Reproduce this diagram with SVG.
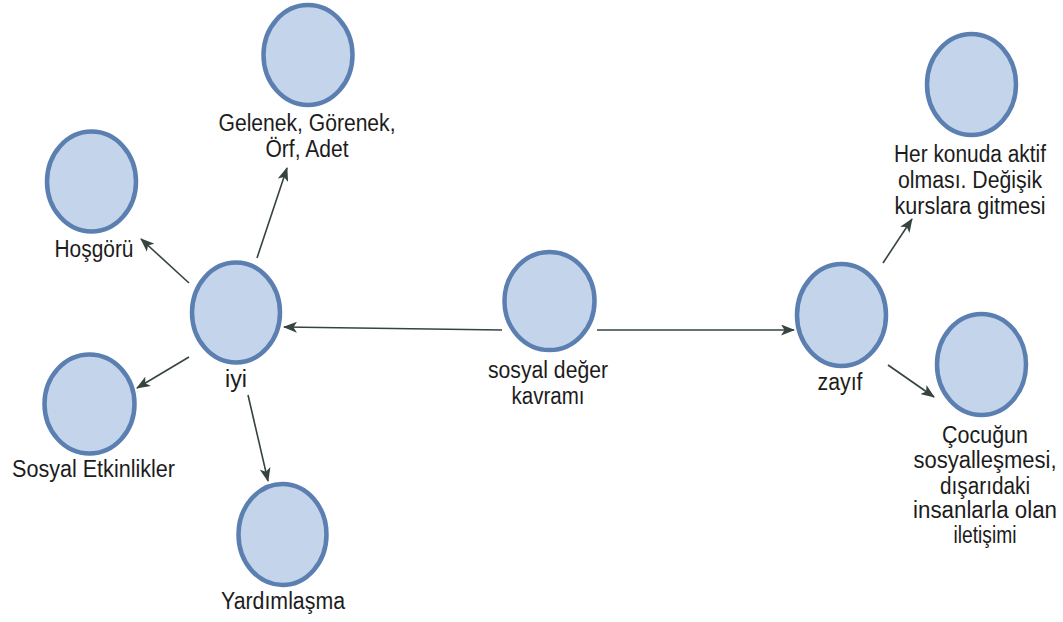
<svg xmlns="http://www.w3.org/2000/svg" width="1063" height="622" viewBox="0 0 1063 622">
  <style>
    .node ellipse { fill: #c4d4ea; stroke: #5a7fb0; stroke-width: 4.5; }
    .node text { font-family: "Liberation Sans", Arial, sans-serif; font-size: 23px; fill: #1c1c1c; text-anchor: middle; }
    .edges line { stroke: #35443f; stroke-width: 1.6; marker-end: url(#arrow); }
  </style>
  <defs>
    <marker id="arrow" markerUnits="userSpaceOnUse" markerWidth="14" markerHeight="11" viewBox="0 0 14 11" refX="13" refY="5.5" orient="auto">
      <path d="M0,0 L14,5.5 L0,11 L3.5,5.5 z" fill="#35443f"/>
    </marker>
  </defs>
  <rect width="1063" height="622" fill="#ffffff"/>

  <g class="edges" id="connectors">
    <line x1="502" y1="330" x2="284" y2="327"/>
    <line x1="597" y1="330" x2="794" y2="330"/>
    <line x1="189" y1="283" x2="141" y2="239"/>
    <line x1="257" y1="258" x2="287" y2="168"/>
    <line x1="189" y1="357" x2="137" y2="388"/>
    <line x1="248" y1="395" x2="268" y2="481"/>
    <line x1="883" y1="263" x2="912" y2="219"/>
    <line x1="888" y1="365" x2="934" y2="397"/>
  </g>

  <g class="node" id="node-gelenek">
    <ellipse cx="308" cy="55" rx="44.5" ry="50"/>
    <text x="307" y="131" textLength="177" lengthAdjust="spacingAndGlyphs">Gelenek, Görenek,</text>
    <text x="307" y="157" textLength="83" lengthAdjust="spacingAndGlyphs">Örf, Adet</text>
  </g>
  <g class="node" id="node-hosgoru">
    <ellipse cx="91.5" cy="181.5" rx="44.5" ry="50"/>
    <text x="94" y="257" textLength="79" lengthAdjust="spacingAndGlyphs">Hoşgörü</text>
  </g>
  <g class="node" id="node-iyi">
    <ellipse cx="236" cy="312.5" rx="44" ry="50"/>
    <text x="236" y="387" textLength="22" lengthAdjust="spacingAndGlyphs">iyi</text>
  </g>
  <g class="node" id="node-sosyal-etkinlikler">
    <ellipse cx="89.5" cy="404" rx="45" ry="49.5"/>
    <text x="93.5" y="477" textLength="163" lengthAdjust="spacingAndGlyphs">Sosyal Etkinlikler</text>
  </g>
  <g class="node" id="node-yardimlasma">
    <ellipse cx="282.5" cy="534.5" rx="44" ry="50.5"/>
    <text x="283" y="609" textLength="124" lengthAdjust="spacingAndGlyphs">Yardımlaşma</text>
  </g>
  <g class="node" id="node-sosyal-deger">
    <ellipse cx="549.5" cy="301" rx="45" ry="49"/>
    <text x="548" y="378" textLength="120" lengthAdjust="spacingAndGlyphs">sosyal değer</text>
    <text x="548" y="404" textLength="73" lengthAdjust="spacingAndGlyphs">kavramı</text>
  </g>
  <g class="node" id="node-zayif">
    <ellipse cx="841.5" cy="315" rx="44.5" ry="51"/>
    <text x="840" y="390" textLength="45" lengthAdjust="spacingAndGlyphs">zayıf</text>
  </g>
  <g class="node" id="node-her-konuda">
    <ellipse cx="971.5" cy="84.5" rx="44.5" ry="50.5"/>
    <text x="970" y="162" textLength="152" lengthAdjust="spacingAndGlyphs">Her konuda aktif</text>
    <text x="970" y="188" textLength="144" lengthAdjust="spacingAndGlyphs">olması. Değişik</text>
    <text x="970" y="214" textLength="151" lengthAdjust="spacingAndGlyphs">kurslara gitmesi</text>
  </g>
  <g class="node" id="node-cocugun">
    <ellipse cx="981.5" cy="364.5" rx="44.5" ry="50.5"/>
    <text x="985" y="443" textLength="86" lengthAdjust="spacingAndGlyphs">Çocuğun</text>
    <text x="985" y="468" textLength="143" lengthAdjust="spacingAndGlyphs">sosyalleşmesi,</text>
    <text x="985" y="494" textLength="90" lengthAdjust="spacingAndGlyphs">dışarıdaki</text>
    <text x="985" y="518" textLength="144" lengthAdjust="spacingAndGlyphs">insanlarla olan</text>
    <text x="985" y="543" textLength="63" lengthAdjust="spacingAndGlyphs">iletişimi</text>
  </g>
</svg>
